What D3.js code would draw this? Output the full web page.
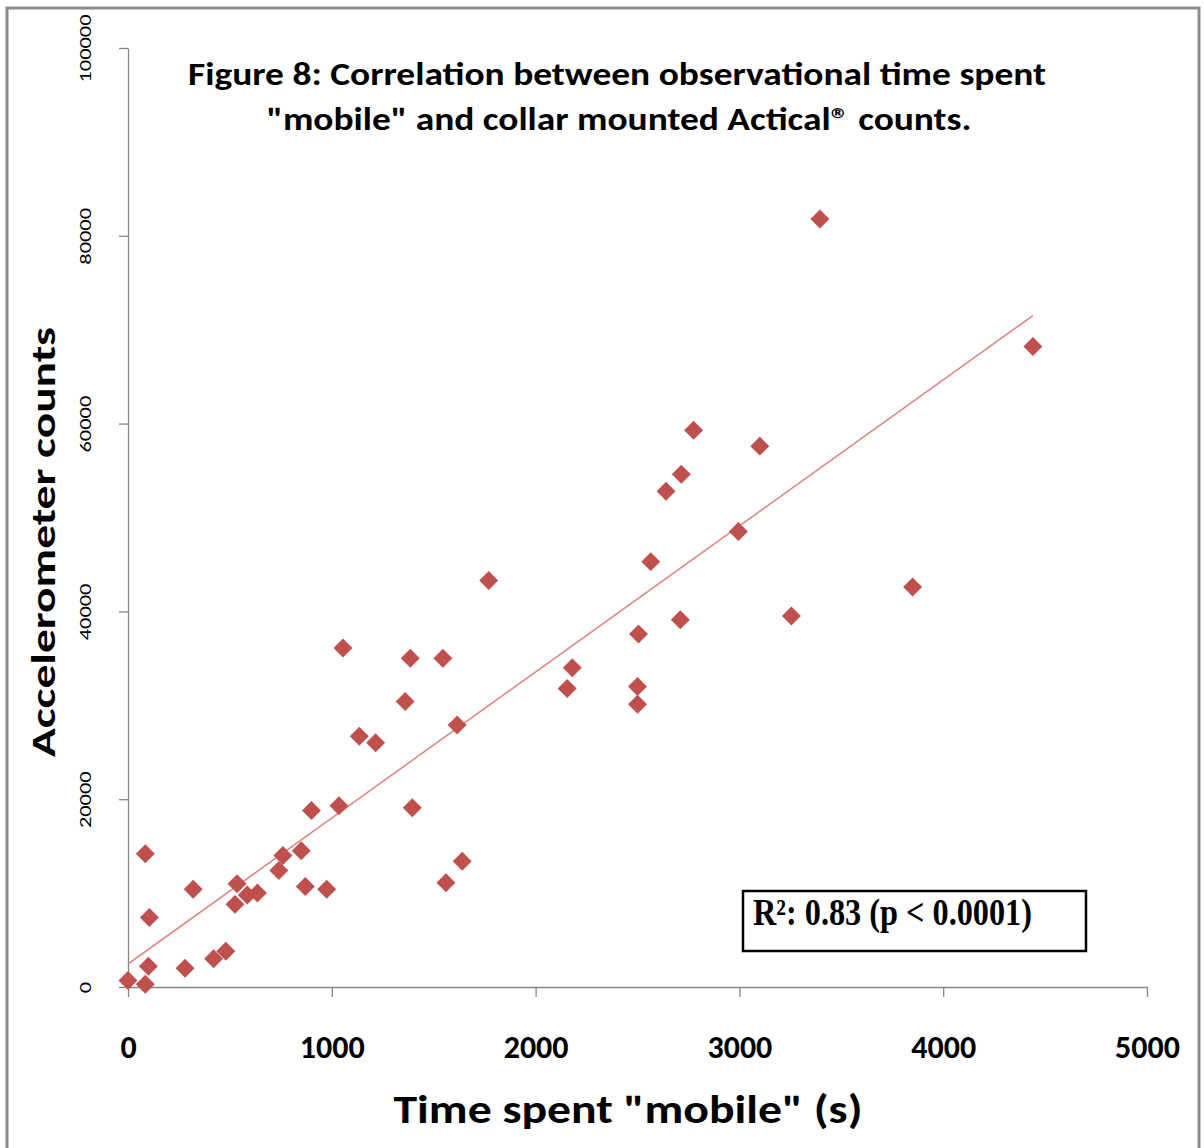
<!DOCTYPE html>
<meta charset="utf-8">
<style>
body { margin: 0; background: #fff; }
svg { display: block; font-family: Carlito, Calibri, Lato, sans-serif; }
.axis path, .axis line { stroke: #868686; stroke-width: 1.3; }
</style>
<svg width="1204" height="1148"></svg>
<script src="https://d3js.org/d3.v7.min.js"></script>
<script>

// observational time spent "mobile" (s) vs accelerometer counts
var mobileSec = [0, 85, 100, 85, 105, 280, 320, 420, 480, 535, 525, 585, 635, 740, 760, 850, 870, 975,
  900, 1035, 1055, 1135, 1215, 1360, 1385, 1395, 1545, 1560, 1615, 1640, 1770, 2155, 2180,
  2500, 2500, 2505, 2565, 2640, 2710, 2715, 2775, 2995, 3100, 3255, 3395, 3850, 4440];
var counts = [700, 300, 2200, 14200, 7400, 2000, 10400, 3000, 3800, 11000, 8800, 9800, 10000, 12400, 14000, 14500, 10700, 10400,
  18800, 19300, 36100, 26700, 26000, 30400, 35000, 19100, 35000, 11100, 27900, 13400, 43300, 31800, 34000,
  32000, 30100, 37600, 45300, 52800, 39100, 54600, 59300, 48500, 57600, 39500, 81800, 42600, 68200];

// linear trend line end points as drawn
var trendX = [0, 4440];
var trendY = [2450, 71500];

var xTicks = [0, 1000, 2000, 3000, 4000, 5000];
var yTicks = [0, 20000, 40000, 60000, 80000, 100000];

var titleLines = ["Figure 8: Correlation between observational time spent",
                  "\"mobile\" and collar mounted Actical® counts."];
var xTitle = "Time spent \"mobile\" (s)";
var yTitle = "Accelerometer counts";
var statText = "R²: 0.83 (p < 0.0001)";

var svg = d3.select("svg");

var x = d3.scaleLinear().domain([0, 5000]).range([128, 1147]);
var y = d3.scaleLinear().domain([0, 100000]).range([987, 48]);

// outer chart frame
svg.append("rect")
    .attr("x", 7).attr("y", 8)
    .attr("width", 1192).attr("height", 1170)
    .attr("fill", "none")
    .attr("stroke", "#8a8a8a")
    .attr("stroke-width", 3);

// title
svg.append("g").selectAll("text")
  .data(titleLines)
  .enter().append("text")
    .attr("x", function(d, i) { return i === 0 ? 617 : 619; })
    .attr("y", function(d, i) { return i === 0 ? 85 : 130; })
    .attr("text-anchor", "middle")
    .attr("font-size", 33)
    .attr("font-weight", "bold")
    .attr("textLength", function(d, i) { return i === 0 ? 858 : 705; })
    .attr("lengthAdjust", "spacingAndGlyphs")
    .text(function(d) { return d; });

// x axis
var gx = svg.append("g")
    .attr("class", "axis")
    .attr("transform", "translate(0," + y(0) + ")")
    .call(d3.axisBottom(x).tickValues(xTicks).tickSize(10).tickSizeOuter(0).tickFormat(d3.format("d")));

gx.selectAll("text")
    .attr("y", 71)
    .attr("dy", 0)
    .attr("fill", "#000")
    .attr("font-family", "Carlito, Calibri, Lato, sans-serif")
    .attr("font-size", 32)
    .attr("font-weight", "bold");

// y axis
var gy = svg.append("g")
    .attr("class", "axis")
    .attr("transform", "translate(" + x(0) + ",0)")
    .call(d3.axisLeft(y).tickValues(yTicks).tickSize(9).tickSizeOuter(0).tickFormat(d3.format("d")));

gy.selectAll("text")
    .attr("x", 0)
    .attr("dy", 0)
    .attr("transform", "translate(-37,0) rotate(-90) scale(1.4,1)")
    .attr("text-anchor", "middle")
    .attr("fill", "#000")
    .attr("font-family", "Carlito, Calibri, Lato, sans-serif")
    .attr("font-size", 16);

// axis titles
svg.append("text")
    .attr("x", 628)
    .attr("y", 1123)
    .attr("text-anchor", "middle")
    .attr("font-size", 40)
    .attr("font-weight", "bold")
    .attr("textLength", 469)
    .attr("lengthAdjust", "spacingAndGlyphs")
    .text(xTitle);

svg.append("text")
    .attr("transform", "translate(55,542) rotate(-90)")
    .attr("text-anchor", "middle")
    .attr("font-size", 35)
    .attr("font-weight", "bold")
    .attr("textLength", 430)
    .attr("lengthAdjust", "spacingAndGlyphs")
    .text(yTitle);

// trend line
var line = d3.line()
    .x(function(d) { return x(d[0]); })
    .y(function(d) { return y(d[1]); });

svg.append("path")
    .datum(d3.zip(trendX, trendY))
    .attr("d", line)
    .attr("fill", "none")
    .attr("stroke", "#e08986")
    .attr("stroke-width", 1.6);

// diamond markers
var diamond = d3.symbol().type(d3.symbolSquare).size(180);

svg.append("g").selectAll("path")
  .data(d3.zip(mobileSec, counts))
  .enter().append("path")
    .attr("d", diamond)
    .attr("transform", function(d) { return "translate(" + x(d[0]) + "," + y(d[1]) + ") rotate(45)"; })
    .attr("fill", "#c0504d");

// R squared box
svg.append("rect")
    .attr("x", 743).attr("y", 891)
    .attr("width", 343).attr("height", 60)
    .attr("fill", "#fff")
    .attr("stroke", "#000")
    .attr("stroke-width", 2.5);

svg.append("text")
    .attr("x", 753)
    .attr("y", 925)
    .attr("font-family", "'Liberation Serif', 'Times New Roman', serif")
    .attr("font-size", 37)
    .attr("font-weight", "bold")
    .attr("textLength", 279)
    .attr("lengthAdjust", "spacingAndGlyphs")
    .text(statText);

</script>
